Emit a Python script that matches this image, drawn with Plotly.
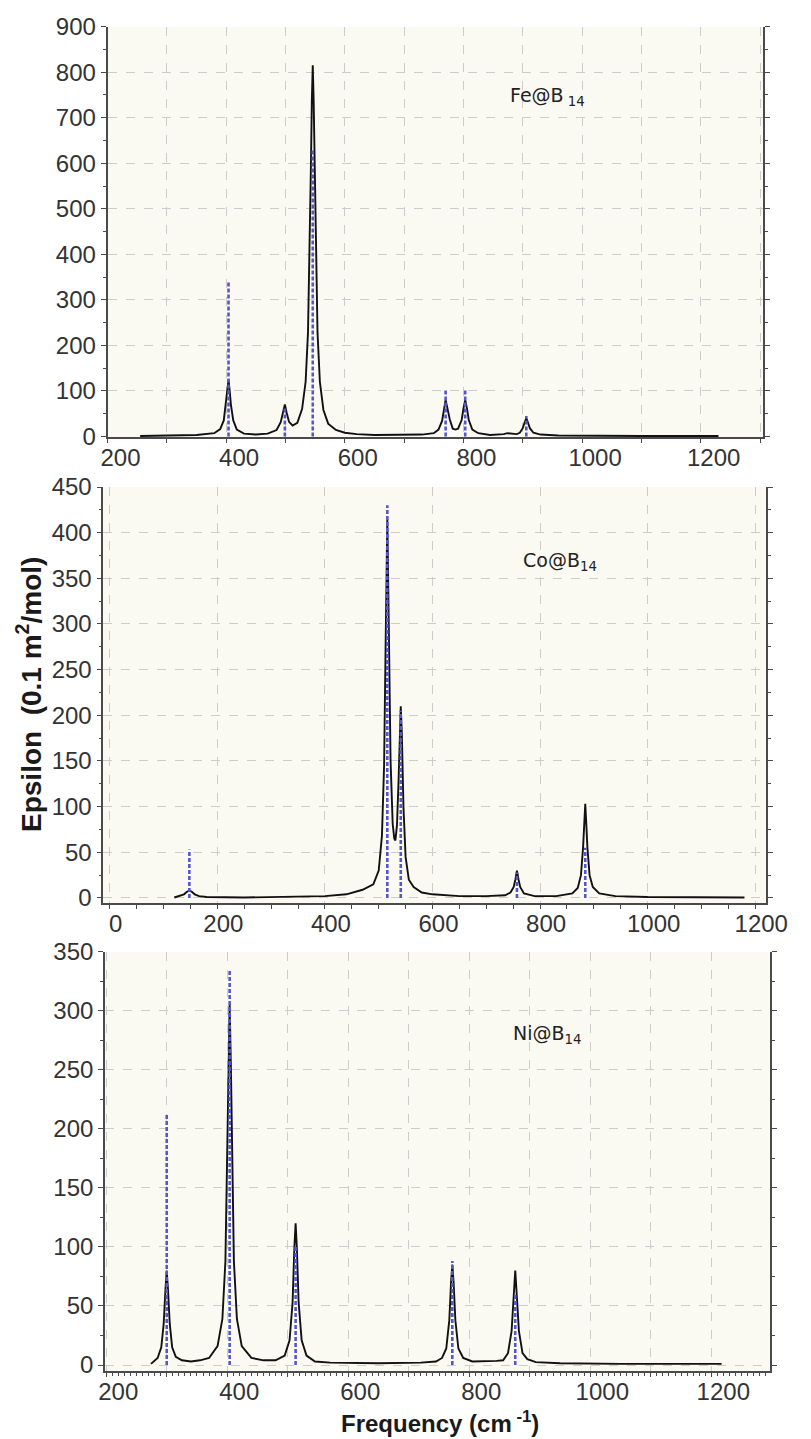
import plotly.graph_objects as go

# ---------------- data ----------------
# Fe@B14 broadened spectrum
FE_X = [255, 300, 350, 380, 390, 396, 400, 402, 404, 406, 408, 412, 418, 430, 450, 470, 485, 492, 496, 499,
        502, 506, 512, 520, 528, 534, 538, 541, 543, 544.5, 546, 547.5, 549, 551, 554, 558, 564, 572, 585,
        600, 620, 650, 700, 730, 750, 758, 764, 767, 770, 773, 777, 782, 786.5, 791, 797, 800, 803, 806,
        809, 815, 825, 845, 860, 868, 874, 880, 890, 895, 900, 903, 906, 909, 912, 918, 930, 960, 1000,
        1100, 1230]
FE_Y = [1, 1.5, 3, 7, 16, 35, 76, 108, 125, 100, 70, 35, 15, 6, 4, 6, 14, 31, 52, 70,
        52, 32, 24, 30, 60, 120, 229, 407, 600, 740, 815, 740, 600, 407, 229, 120, 58, 28, 14,
        8, 5, 3, 3, 4, 7, 15, 34, 60, 80, 62, 37, 17, 15, 17, 36, 61, 80, 61,
        36, 15, 7, 3, 4, 5, 7, 6, 5, 8, 18, 30, 40, 30, 18, 8, 4, 2, 1.5,
        1, 1]
FE_STICK_X = [404, 499, 546, 770, 803, 906]
FE_STICK_Y = [340, 65, 630, 105, 105, 45]

# Co@B14 broadened spectrum
CO_X = [120, 130, 138, 144, 148, 152, 158, 166, 180, 250, 350, 400, 440, 470, 490, 500, 506, 510, 513, 516,
        519, 522, 526, 529, 531, 534, 537, 539, 541, 543, 546, 550, 556, 565, 580, 600, 650, 700, 735,
        745, 751, 754, 757, 760, 763, 770, 790, 830, 860, 870, 876, 880, 882, 884, 886, 888, 892, 898,
        910, 940, 1000, 1180]
CO_Y = [0.5, 2, 4, 7, 8, 7, 4, 2, 1, 0.5, 1, 2, 4, 9, 15, 30, 68, 145, 284, 415,
        287, 151, 81, 65, 63, 80, 130, 186, 210, 180, 100, 45, 20, 12, 6, 4, 2, 2, 3,
        6, 12, 20, 30, 20, 12, 5, 2, 2, 5, 11, 25, 56, 80, 103, 80, 55, 25, 12,
        5, 2, 1, 0.5]
CO_STICK_X = [148, 516, 541, 757, 884]
CO_STICK_Y = [53, 430, 205, 28, 55]

# Ni@B14 broadened spectrum
NI_X = [274, 285, 291, 295, 298, 300, 302, 305, 309, 315, 325, 340, 355, 370, 384, 392, 397, 400, 402, 404,
        406, 408, 411, 416, 424, 440, 460, 480, 495, 503, 508, 511, 513, 515, 518, 523, 531, 545, 570,
        650, 720, 745, 755, 762, 767, 770, 772, 774, 777, 782, 790, 805, 825, 845, 856, 864, 870, 873,
        876, 879, 882, 888, 896, 910, 950, 1050, 1217]
NI_Y = [1, 6, 15, 35, 65, 80, 65, 35, 15, 7, 4, 3, 4, 6, 16, 39, 88, 170, 254, 305,
        254, 170, 88, 39, 16, 6, 4, 4, 8, 21, 53, 100, 120, 100, 53, 21, 8, 3, 2,
        1.5, 2, 3, 6, 14, 38, 71, 85, 71, 38, 14, 6, 3, 3, 3.5, 4, 10, 29, 55,
        80, 55, 29, 10, 5, 2.5, 1.5, 1, 1]
NI_STICK_X = [300, 404, 513, 772, 876]
NI_STICK_Y = [212, 334, 100, 88, 60]

# tick labels
FE_XTICKS = [200, 300, 400, 500, 600, 700, 800, 900, 1000, 1100, 1200, 1300]
FE_XTEXT = ["200", "", "400", "", "600", "", "800", "", "1000", "", "1200", ""]
NI_XTICKS = [200, 300, 400, 500, 600, 700, 800, 900, 1000, 1100, 1200]
NI_XTEXT = ["200", "", "400", "", "600", "", "800", "", "1000", "", "1200"]

PANEL_LABELS = ["Fe@B<sub> 14</sub>", "Co@B<sub>14</sub>", "Ni@B<sub>14</sub>"]
Y_TITLE = "Epsilon  (0.1 m<sup>2</sup>/mol)"
X_TITLE = "Frequency (cm<sup> -1</sup>)"

# ---------------- figure ----------------
W, H = 811, 1439


def px_x(p):
    return p / W


def px_y(p):
    return 1 - p / H


def stick_lines(xs, hs):
    sx, sy = [], []
    for x, h in zip(xs, hs):
        sx += [x, x, None]
        sy += [0, h, None]
    return sx, sy


CURVE = dict(color="#111111", width=1.9)
STICK = dict(color="#5656cc", width=2.6, dash="4px,2px")

panels = [
    (FE_X, FE_Y, FE_STICK_X, FE_STICK_Y, "x", "y"),
    (CO_X, CO_Y, CO_STICK_X, CO_STICK_Y, "x2", "y2"),
    (NI_X, NI_Y, NI_STICK_X, NI_STICK_Y, "x3", "y3"),
]

fig = go.Figure()
for cx, cy, sxv, syv, xa, ya in panels:
    fig.add_trace(go.Scatter(x=cx, y=cy, mode="lines", line=CURVE, xaxis=xa, yaxis=ya,
                             showlegend=False, hoverinfo="skip"))
    lx, ly = stick_lines(sxv, syv)
    fig.add_trace(go.Scatter(x=lx, y=ly, mode="lines", line=STICK, xaxis=xa, yaxis=ya,
                             showlegend=False, hoverinfo="skip"))

TICKFONT = dict(family="Liberation Sans Narrow, Arial Narrow, Liberation Sans, sans-serif",
                size=24, color="#333333")
AXCOL = "#4a4a4a"
GRIDCOL = "#cccccc"

common_x = dict(showline=True, linecolor=AXCOL, linewidth=2.2, ticks="outside", ticklen=4,
                tickcolor=AXCOL, tickwidth=1, tickfont=TICKFONT, zeroline=False,
                showgrid=True, gridcolor=GRIDCOL, griddash="dash", gridwidth=1,
                mirror=False, automargin=False, ticklabelstandoff=-6)
common_y = dict(showline=True, linecolor=AXCOL, linewidth=1.6, ticks="outside", ticklen=5,
                tickcolor=AXCOL, tickwidth=1, tickfont=TICKFONT, zeroline=False,
                showgrid=True, gridcolor=GRIDCOL, griddash="dash", gridwidth=1,
                mirror="ticks", automargin=False)

layout = dict(
    width=W, height=H, margin=dict(l=0, r=0, t=0, b=0), autosize=False,
    paper_bgcolor="white", plot_bgcolor="#fafaf2", showlegend=False,
    xaxis=dict(common_x, domain=[px_x(107.5), px_x(763)], range=[200, 1305], anchor="y",
               tickmode="array", tickvals=FE_XTICKS, ticktext=FE_XTEXT, ticklabelshift=13),
    yaxis=dict(common_y, domain=[px_y(437.3), px_y(26.7)], range=[-2, 900], anchor="x",
               dtick=100, minor=dict(dtick=50, ticks="outside", ticklen=3, tickcolor=AXCOL, showgrid=False)),
    xaxis2=dict(common_x, domain=[px_x(103.3), px_x(766)], range=[-12, 1220], anchor="y2",
                dtick=200, tick0=0, ticklabelshift=6,
                minor=dict(dtick=50, ticks="outside", ticklen=4, tickcolor=AXCOL, showgrid=False)),
    yaxis2=dict(common_y, domain=[px_y(903), px_y(487)], range=[-5.5, 450], anchor="x2",
                dtick=50, minor=dict(dtick=25, ticks="outside", ticklen=3, tickcolor=AXCOL, showgrid=False)),
    xaxis3=dict(common_x, domain=[px_x(105), px_x(770)], range=[198, 1297], anchor="y3",
                tickmode="array", tickvals=NI_XTICKS, ticktext=NI_XTEXT, ticklabelshift=12,
                minor=dict(dtick=10, tick0=200, ticks="outside", ticklen=3, tickcolor=AXCOL, showgrid=False)),
    yaxis3=dict(common_y, domain=[px_y(1370.7), px_y(951.7)], range=[-4.8, 350], anchor="x3",
                dtick=50, minor=dict(dtick=25, ticks="outside", ticklen=3, tickcolor=AXCOL, showgrid=False)),
)
fig.update_layout(**layout)

LABELFONT = dict(family="DejaVu Sans, Liberation Sans, sans-serif", size=19, color="#222222")
label_pos = [(508, 96), (521, 561), (511, 1034)]
for txt, (lx, ly) in zip(PANEL_LABELS, label_pos):
    fig.add_annotation(text=txt, x=px_x(lx), y=px_y(ly), xref="paper", yref="paper",
                       xanchor="left", yanchor="middle", showarrow=False, font=LABELFONT)

TITLEFONT = dict(family="Liberation Sans, Arial, sans-serif", size=28, color="#1a1a1a")
fig.add_annotation(text="<b>" + Y_TITLE + "</b>", x=px_x(29), y=px_y(695), xref="paper", yref="paper",
                   textangle=-90, showarrow=False, font=TITLEFONT, xanchor="center", yanchor="middle")
fig.add_annotation(text="<b>" + X_TITLE + "</b>", x=px_x(440), y=px_y(1422), xref="paper", yref="paper",
                   showarrow=False, font=dict(TITLEFONT, size=24), xanchor="center", yanchor="middle")

fig.write_html("out.html")
